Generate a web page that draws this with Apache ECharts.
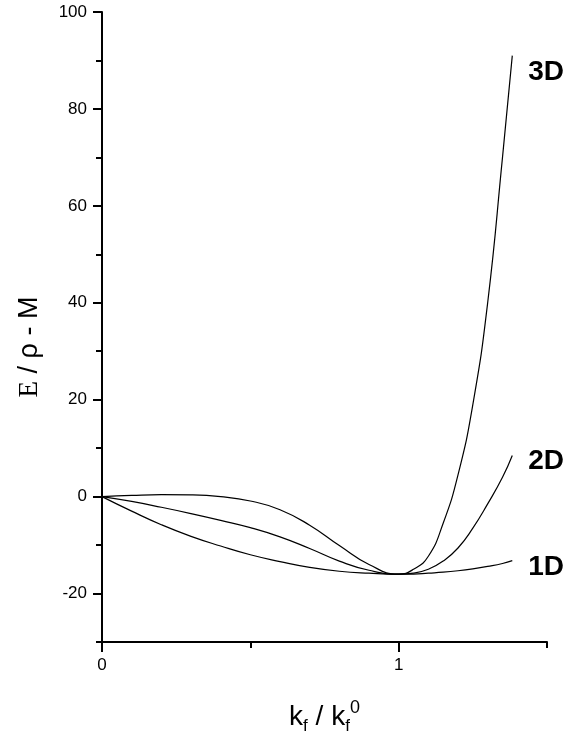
<!DOCTYPE html>
<html>
<head>
<meta charset="utf-8">
<script src="https://cdn.jsdelivr.net/npm/echarts@6/dist/echarts.min.js"></script>
<style>
  html, body { margin: 0; padding: 0; background: #fff; }
  #chart { width: 586px; height: 739px; }
</style>
</head>
<body>
<div id="chart"></div>
<script>
// k_f / k_f^0 sample positions
var kRatio = [0, 0.1, 0.2, 0.3, 0.4, 0.5, 0.6, 0.7, 0.8, 0.9, 1.0, 1.05, 1.1, 1.15, 1.2, 1.25, 1.3, 1.35, 1.383];
// E / rho - M
var e1D = [0, -3.0, -5.8, -8.2, -10.2, -12.0, -13.4, -14.6, -15.4, -15.8, -16.0, -16.0, -15.8, -15.6, -15.3, -14.9, -14.4, -13.8, -13.2];
var e2D = [0, -1.0, -2.2, -3.5, -4.9, -6.4, -8.3, -10.7, -13.3, -15.2, -16.0, -15.8, -15.0, -13.3, -10.6, -6.5, -1.5, 4.0, 8.5];
var e3D = [0, 0.25, 0.4, 0.35, 0.0, -0.9, -2.7, -5.9, -10.1, -14.0, -16.0, -15.0, -12.3, -5.5, 4.5, 19.0, 40.0, 70.0, 91.0];

var yMajor = [-20, 0, 20, 40, 60, 80, 100];
var yMinor = [-30, -10, 10, 30, 50, 70, 90];
var xMajor = [0, 1];
var xMinor = [0.5, 1.5];

function pairs(ys) {
    return kRatio.map(function (k, i) { return [k, ys[i]]; });
}

var chart = echarts.init(document.getElementById('chart'));

var sans = 'Liberation Sans, Arial, sans-serif';
var tickFont = { color: '#000', fontSize: 17, fontFamily: sans };
var blackLine = { color: '#000', width: 2 };

function curve(name, ys, offset) {
    return {
        name: name,
        type: 'line',
        data: pairs(ys),
        smooth: 0.5,
        showSymbol: false,
        lineStyle: { color: '#000', width: 1.2 },
        endLabel: {
            show: true,
            formatter: name,
            offset: offset,
            color: '#000',
            fontSize: 28,
            fontWeight: 'bold',
            fontFamily: sans
        }
    };
}

var option = {
    backgroundColor: '#fff',
    animation: false,
    grid: { left: 102, right: 39, top: 12, bottom: 97, outerBoundsMode: 'none' },
    xAxis: [{
        type: 'value',
        position: 'bottom',
        min: 0,
        max: 1.5,
        interval: 0.5,
        axisLine: { show: true, onZero: false, lineStyle: blackLine },
        axisTick: { show: true, customValues: xMajor, length: 10, lineStyle: blackLine },
        axisLabel: Object.assign({ customValues: xMajor, margin: 15 }, tickFont),
        splitLine: { show: false },
        name: '{k|k}{s|f}{k| / k}{s|f}{p|0}',
        nameLocation: 'middle',
        nameGap: 57,
        nameTextStyle: {
            rich: {
                k: { fontSize: 28, color: '#000', fontFamily: sans, lineHeight: 36 },
                s: { fontSize: 17, color: '#000', fontFamily: sans, verticalAlign: 'bottom', lineHeight: 36 },
                p: { fontSize: 18, color: '#000', fontFamily: sans, verticalAlign: 'top', lineHeight: 36 }
            }
        }
    }, {
        type: 'value',
        position: 'bottom',
        min: 0,
        max: 1.5,
        interval: 0.5,
        axisLine: { show: false, onZero: false },
        axisTick: { show: true, customValues: xMinor, length: 6, lineStyle: blackLine },
        axisLabel: { show: false },
        splitLine: { show: false }
    }],
    yAxis: [{
        type: 'value',
        position: 'left',
        min: -30,
        max: 100,
        interval: 10,
        axisLine: { show: true, onZero: false, lineStyle: blackLine },
        axisTick: { show: true, customValues: yMajor, length: 9, lineStyle: blackLine },
        axisLabel: Object.assign({ customValues: yMajor, margin: 15 }, tickFont),
        splitLine: { show: false }
    }, {
        type: 'value',
        position: 'left',
        min: -30,
        max: 100,
        interval: 10,
        axisLine: { show: false, onZero: false },
        axisTick: { show: true, customValues: yMinor, length: 6, lineStyle: blackLine },
        axisLabel: { show: false },
        splitLine: { show: false }
    }],
    graphic: [{
        type: 'text',
        x: 30,
        y: 347,
        rotation: Math.PI / 2,
        style: {
            text: '{e|E}{t| / ρ - M}',
            align: 'center',
            verticalAlign: 'middle',
            rich: {
                e: { fontSize: 27, fill: '#000', fontFamily: 'Liberation Serif, Times New Roman, serif' },
                t: { fontSize: 27, fill: '#000', fontFamily: sans }
            }
        }
    }],
    series: [
        curve('1D', e1D, [8, 7]),
        curve('2D', e2D, [8, 6]),
        curve('3D', e3D, [8, 17])
    ]
};

chart.setOption(option);
</script>
</body>
</html>
